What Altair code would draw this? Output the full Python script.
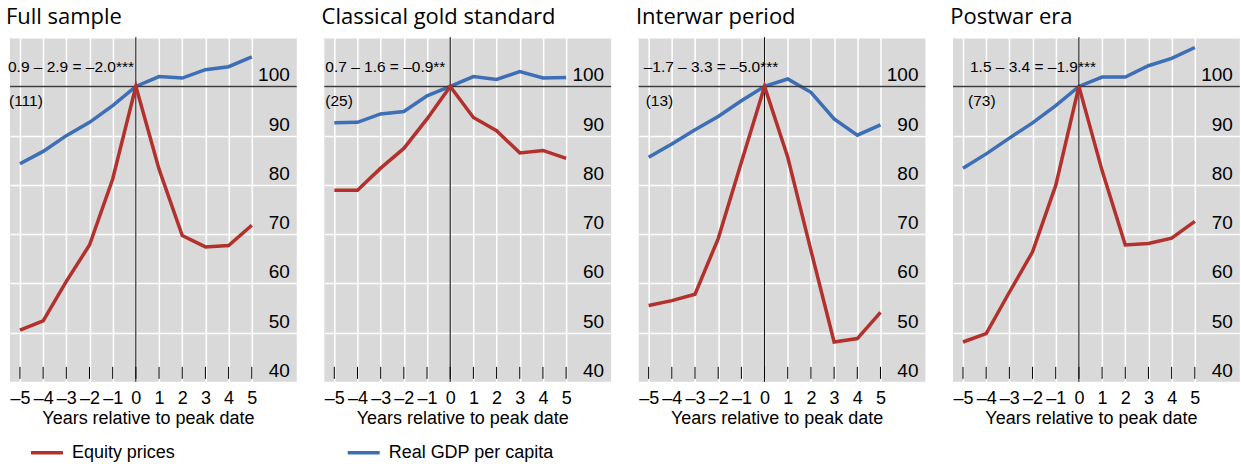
import altair as alt
import pandas as pd

# Years relative to the business-cycle peak
years = list(range(-5, 6))

panel_titles = ["Full sample", "Classical gold standard", "Interwar period", "Postwar era"]

# Index values (peak year = 100)
equity_full = [50.5, 52.4, 60.4, 67.8, 81.2, 100.0, 83.2, 69.7, 67.4, 67.7, 71.8]
gdp_full = [84.3, 86.8, 90.0, 92.7, 96.1, 100.0, 102.0, 101.7, 103.4, 104.0, 106.0]

equity_gold = [78.9, 78.9, 83.4, 87.4, 93.4, 100.0, 93.7, 91.0, 86.5, 87.0, 85.4]
gdp_gold = [92.6, 92.7, 94.4, 94.9, 98.1, 100.0, 102.0, 101.4, 103.0, 101.7, 101.8]

equity_interwar = [55.5, 56.5, 57.8, 69.1, 84.6, 100.0, 85.6, 66.7, 48.1, 48.8, 54.1]
gdp_interwar = [85.6, 88.3, 91.2, 93.9, 97.1, 100.0, 101.5, 98.8, 93.4, 90.1, 92.2]

equity_postwar = [48.1, 49.8, 58.2, 66.4, 79.9, 100.0, 82.9, 67.8, 68.1, 69.2, 72.6]
gdp_postwar = [83.4, 86.3, 89.5, 92.6, 96.1, 100.0, 101.9, 101.9, 104.2, 105.7, 107.9]

notes = [
    "0.9 – 2.9 = –2.0***",
    "0.7  – 1.6 = –0.9**",
    "–1.7 – 3.3 = –5.0***",
    "1.5 – 3.4 = –1.9***",
]
counts = ["(111)", "(25)", "(13)", "(73)"]

y_labels = [40, 50, 60, 70, 80, 90, 100]
y_grid = [40, 50, 60, 70, 80, 90, 100, 110]

EQ = "Equity prices"
GDP = "Real GDP per capita"
RED = "#b3312d"
BLUE = "#3d6eb6"
GREY = "#d9d9d9"

W, H = 287, 345
# horizontal pixel offsets of the annotation texts inside each panel
note_dx = [-2, 1, 5, 17]
count_dx = [-1, 1, 7, 15]

xs = alt.Scale(domain=[-5.43, 6.94], nice=False, zero=False)
ys = alt.Scale(domain=[40, 110], nice=False, zero=False)

x_axis = alt.Axis(
    values=years, grid=True, gridColor="white", gridWidth=1.5,
    ticks=False, domain=False,
    labelExpr="datum.value < 0 ? '–' + abs(datum.value) : '' + datum.value",
    labelFont="Liberation Sans", labelFontSize=18, labelColor="black",
    labelPadding=8, labelFlush=False, labelOverlap=False,
    title="Years relative to peak date", titleFont="Liberation Sans",
    titleFontSize=18, titleFontWeight="normal", titleColor="black",
    titlePadding=2, titleX=138, titleAlign="center",
)
y_axis = alt.Axis(
    values=y_grid, grid=True, gridColor="white", gridWidth=1.5,
    labels=False, ticks=False, domain=False, title=None,
)

color = alt.Color(
    "series:N",
    scale=alt.Scale(domain=[EQ, GDP], range=[RED, BLUE]),
    legend=alt.Legend(
        title=None,
        orient="none",
        legendX=19,
        legendY=398,
        direction="horizontal",
        symbolType="stroke",
        symbolStrokeWidth=3.5,
        symbolSize=1024,
        labelFont="Liberation Sans",
        labelFontSize=18,
        labelColor="black",
        labelLimit=400,
        columnPadding=165,
        labelOffset=7,
    ),
)


def X(field):
    return alt.X(field, scale=xs, axis=x_axis)


def Y(field):
    return alt.Y(field, scale=ys, axis=y_axis)


def panel(i, equity, gdp):
    df = pd.DataFrame({
        "year": years * 2,
        "value": equity + gdp,
        "series": [EQ] * len(years) + [GDP] * len(years),
    })

    base = alt.Chart(df)
    gdp_line = base.transform_filter(alt.datum.series == GDP).mark_line(strokeWidth=3.5).encode(
        x=X("year:Q"), y=Y("value:Q"), color=color,
    )
    eq_line = base.transform_filter(alt.datum.series == EQ).mark_line(strokeWidth=3.5).encode(
        x=X("year:Q"), y=Y("value:Q"), color=color,
    )

    one = pd.DataFrame({"x": [0], "y": [100], "note": [notes[i]], "count": [counts[i]]})
    hline = alt.Chart(one).mark_rule(color="#3a3a3a", strokeWidth=1.5).encode(y=Y("y:Q"))
    vline = alt.Chart(one).mark_rule(color="black", strokeWidth=1).encode(x=X("x:Q"))
    ticks = alt.Chart(pd.DataFrame({"year": years})).mark_rule(color="black", strokeWidth=1).encode(
        x=X("year:Q"),
        y=alt.value(H - 15),
        y2=alt.value(H - 3),
    )
    ylab = alt.Chart(pd.DataFrame({"tick": y_labels})).mark_text(
        align="right", baseline="bottom", dy=-1, font="Liberation Sans",
        fontSize=19, color="black",
    ).encode(
        y=Y("tick:Q"),
        x=alt.value(W - 7),
        text="tick:Q",
    )
    note = alt.Chart(one).mark_text(
        align="left", baseline="middle", font="Liberation Sans", fontSize=15.5, color="black",
    ).encode(x=alt.value(note_dx[i]), y=alt.value(30), text="note:N")
    count = alt.Chart(one).mark_text(
        align="left", baseline="middle", font="Liberation Sans", fontSize=15.5, color="black",
    ).encode(x=alt.value(count_dx[i]), y=alt.value(64), text="count:N")

    return alt.layer(
        gdp_line, hline, vline, ticks, ylab, note, count, eq_line
    ).properties(
        width=W,
        height=H,
        title=alt.TitleParams(
            text=panel_titles[i], anchor="start", font="Open Sans", fontSize=22,
            fontWeight="normal", color="black", offset=8, dx=-2,
        ),
    )


panels = [
    panel(0, equity_full, gdp_full),
    panel(1, equity_gold, gdp_gold),
    panel(2, equity_interwar, gdp_interwar),
    panel(3, equity_postwar, gdp_postwar),
]

chart = alt.hconcat(*panels, spacing=27.6, bounds="flush").configure_view(
    fill=GREY, stroke=None
).properties(
    padding={"left": 6, "top": 5, "right": 0, "bottom": 0},
    background="white",
)

chart.save("out.html", embed_options={"renderer": "svg", "actions": False})
